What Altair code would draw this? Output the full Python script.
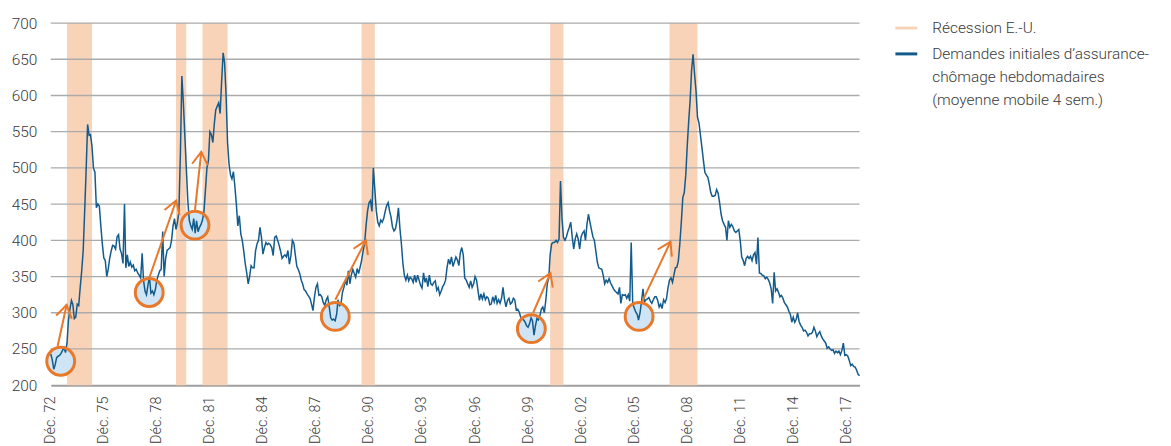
import altair as alt
import pandas as pd

# ---------------- data ----------------
START = "1972-12-01"  # first monthly observation (Dec 1972)
# 4-week moving average of weekly initial jobless claims (thousands), monthly samples read off the chart
claims_1972 = [243]
claims_1973 = [235, 222, 228, 238, 240, 241, 244, 248, 252, 245, 258, 290]
claims_1974 = [305, 317, 312, 292, 294, 312, 310, 335, 358, 385, 440, 496]
claims_1975 = [560, 545, 546, 530, 500, 494, 445, 450, 447, 420, 395, 376]
claims_1976 = [372, 350, 360, 375, 385, 393, 392, 388, 405, 408, 388, 382]
claims_1977 = [368, 450, 362, 380, 364, 370, 363, 366, 358, 360, 355, 352]
claims_1978 = [348, 382, 345, 330, 325, 338, 350, 327, 330, 325, 332, 345]
claims_1979 = [352, 358, 360, 412, 350, 375, 386, 388, 390, 400, 420, 430]
claims_1980 = [415, 425, 440, 520, 627, 590, 545, 500, 455, 428, 420, 415]
claims_1981 = [430, 410, 427, 412, 418, 422, 428, 440, 470, 500, 510, 550]
claims_1982 = [546, 535, 560, 580, 585, 590, 575, 620, 659, 645, 600, 535]
claims_1983 = [505, 490, 485, 495, 475, 450, 420, 434, 409, 400, 385, 368]
claims_1984 = [355, 340, 350, 365, 362, 362, 385, 395, 400, 418, 404, 381]
claims_1985 = [390, 397, 394, 396, 394, 390, 379, 404, 406, 400, 393, 385]
claims_1986 = [375, 378, 380, 377, 386, 367, 378, 400, 396, 380, 364, 360]
claims_1987 = [354, 345, 340, 332, 330, 326, 323, 320, 312, 303, 322, 335]
claims_1988 = [340, 324, 325, 322, 314, 310, 318, 322, 308, 293, 290, 291]
claims_1989 = [289, 298, 318, 310, 312, 328, 335, 345, 338, 358, 340, 352]
claims_1990 = [360, 354, 349, 361, 354, 363, 372, 385, 395, 420, 440, 452]
claims_1991 = [455, 440, 500, 470, 441, 425, 420, 428, 425, 430, 440, 448]
claims_1992 = [452, 440, 432, 418, 413, 416, 427, 445, 416, 395, 368, 352]
claims_1993 = [345, 352, 344, 349, 347, 342, 352, 342, 352, 345, 338, 334]
claims_1994 = [355, 342, 348, 336, 352, 340, 338, 342, 344, 331, 335, 325]
claims_1995 = [330, 336, 339, 345, 362, 374, 367, 377, 364, 370, 377, 373]
claims_1996 = [365, 383, 390, 380, 348, 345, 340, 335, 344, 335, 340, 350]
claims_1997 = [345, 330, 317, 326, 319, 326, 318, 322, 320, 311, 312, 322]
claims_1998 = [315, 324, 313, 318, 313, 320, 335, 318, 308, 317, 320, 312]
claims_1999 = [314, 320, 318, 304, 305, 301, 294, 292, 290, 287, 282, 280]
claims_2000 = [285, 293, 289, 269, 282, 292, 290, 296, 305, 308, 300, 317]
claims_2001 = [340, 348, 380, 395, 397, 397, 400, 397, 402, 482, 430, 404]
claims_2002 = [400, 405, 412, 418, 425, 404, 388, 402, 409, 402, 388, 405]
claims_2003 = [410, 413, 400, 422, 436, 425, 415, 405, 400, 385, 370, 362]
claims_2004 = [361, 360, 352, 340, 345, 342, 347, 341, 337, 333, 330, 328]
claims_2005 = [326, 335, 313, 325, 324, 325, 320, 325, 316, 397, 312, 307]
claims_2006 = [301, 298, 290, 300, 315, 333, 315, 318, 319, 321, 316, 313]
claims_2007 = [318, 322, 322, 317, 308, 312, 306, 318, 314, 320, 335, 345]
claims_2008 = [348, 342, 352, 362, 363, 372, 395, 425, 459, 466, 490, 530]
claims_2009 = [565, 595, 635, 657, 630, 606, 570, 562, 545, 528, 510, 494]
claims_2010 = [490, 487, 478, 466, 461, 461, 462, 470, 465, 452, 436, 427]
claims_2011 = [422, 418, 400, 427, 418, 422, 419, 413, 411, 413, 415, 400]
claims_2012 = [377, 372, 365, 375, 378, 375, 378, 372, 380, 383, 367, 404]
claims_2013 = [355, 354, 352, 351, 347, 349, 346, 341, 333, 313, 356, 330]
claims_2014 = [333, 328, 322, 324, 320, 314, 311, 308, 302, 298, 287, 294]
claims_2015 = [287, 291, 300, 288, 283, 280, 275, 276, 273, 268, 271, 271]
claims_2016 = [273, 280, 275, 267, 271, 274, 268, 264, 261, 258, 251, 253]
claims_2017 = [250, 248, 249, 244, 247, 245, 247, 242, 248, 258, 241, 242]
claims_2018 = [240, 234, 227, 229, 226, 225, 221, 215, 213]

# US recessions (NBER): first and one-past-last month
rec_start = ["1973-11-01", "1980-01-01", "1981-07-01", "1990-07-01", "2001-03-01", "2007-12-01"]
rec_end = ["1975-04-01", "1980-08-01", "1982-12-01", "1991-04-01", "2001-12-01", "2009-07-01"]

# Annotations: circled troughs and arrows
circ_date = ["1973-06-24", "1978-06-27", "1981-01-28", "1989-01-04", "2000-02-07", "2006-03-13"]
circ_val = [233, 328, 421, 295, 278, 295]
arr_from_date = ["1973-04-22", "1978-06-27", "1981-01-28", "1989-01-04", "2000-03-15", "2006-05-13"]
arr_from_val = [254, 348, 442, 318, 300, 315]
arr_to_date = ["1973-10-25", "1980-01-04", "1981-06-06", "1990-09-28", "2001-03-07", "2007-12-22"]
arr_to_val = [311, 455, 522, 400, 355, 398]
arr_angle = [12, 19, 6, 24, 23, 27]

y_ticks = [200, 250, 300, 350, 400, 450, 500, 550, 600, 650, 700]
x_tick_years = list(range(1972, 2018, 3))

legend_labels = ["Récession E.-U.",
                 "Demandes initiales d’assurance-|chômage hebdomadaires|(moyenne mobile 4 sem.)"]

# ---------------- styling ----------------
FONT = "Roboto"
TXT = "#3a3a3a"
PEACH = "#F8D3B8"
BLUE = "#135B8C"
ORANGE = "#E8782A"
LIGHTBLUE = "#CFE4F4"
GRID = "#ABABAB"
W, H = 813, 364

all_claims = (claims_1972 + claims_1973 + claims_1974 + claims_1975 + claims_1976 + claims_1977
              + claims_1978 + claims_1979 + claims_1980 + claims_1981 + claims_1982 + claims_1983
              + claims_1984 + claims_1985 + claims_1986 + claims_1987 + claims_1988 + claims_1989
              + claims_1990 + claims_1991 + claims_1992 + claims_1993 + claims_1994 + claims_1995
              + claims_1996 + claims_1997 + claims_1998 + claims_1999 + claims_2000 + claims_2001
              + claims_2002 + claims_2003 + claims_2004 + claims_2005 + claims_2006 + claims_2007
              + claims_2008 + claims_2009 + claims_2010 + claims_2011 + claims_2012 + claims_2013
              + claims_2014 + claims_2015 + claims_2016 + claims_2017 + claims_2018)
dates = pd.date_range(START, periods=len(all_claims), freq="MS")

line_df = pd.DataFrame({"date": dates.strftime("%Y-%m-%d"), "value": all_claims})
rec_df = pd.DataFrame({"start": rec_start, "end": rec_end})
grid_df = pd.DataFrame({"v": y_ticks[1:]})
circ_df = pd.DataFrame({"date": circ_date, "value": circ_val})
arr_df = pd.DataFrame({"d0": arr_from_date, "v0": arr_from_val, "d1": arr_to_date,
                       "v1": arr_to_val, "ang": arr_angle})


def ms(s):
    return int(pd.Timestamp(s).value // 10**6)


x_scale = alt.Scale(type="utc", domain=[ms(START), ms(dates[-1].strftime("%Y-%m-%d"))])
y_scale = alt.Scale(domain=[200, 700], nice=False, zero=False)

x_axis = alt.Axis(values=[ms(f"{y}-12-01") for y in x_tick_years],
                  labelExpr="'Déc. ' + utcFormat(datum.value, '%y')",
                  labelAngle=270, labelFontSize=14.5, labelFont=FONT, labelFontWeight=300,
                  labelColor=TXT, labelPadding=11, ticks=False, tickSize=0, grid=False,
                  domain=True, domainColor="#9E9E9E", domainWidth=2, title=None,
                  labelOverlap=False, labelFlush=False)
y_axis = alt.Axis(values=y_ticks, grid=False, domain=False, ticks=False, tickSize=0,
                  labelPadding=14, labelFontSize=15.5, labelFont=FONT, labelFontWeight=300,
                  labelColor=TXT, labelOverlap=False, title=None)


def X(field):
    return alt.X(field, scale=x_scale, axis=x_axis)


def Y(field):
    return alt.Y(field, scale=y_scale, axis=y_axis)


rec = alt.Chart(rec_df).mark_rect(color=PEACH).encode(x=X("start:T"), x2="end:T")

grid = alt.Chart(grid_df).mark_rule(color=GRID, strokeWidth=1.3).encode(y=Y("v:Q"))

circ_fill = alt.Chart(circ_df).mark_point(shape="circle", filled=True, fill=LIGHTBLUE,
                                          opacity=1, size=784, strokeWidth=0).encode(
    x=X("date:T"), y=Y("value:Q")
)

line = alt.Chart(line_df).mark_line(strokeWidth=1.5, color=BLUE).encode(
    x=X("date:T"), y=Y("value:Q")
)

ring = alt.Chart(circ_df).mark_point(shape="circle", filled=False, color=ORANGE,
                                     opacity=1, size=784, strokeWidth=3).encode(
    x=X("date:T"), y=Y("value:Q")
)

shaft = alt.Chart(arr_df).mark_rule(color=ORANGE, strokeWidth=2).encode(
    x=X("d0:T"), y=Y("v0:Q"), x2="d1:T", y2="v1:Q",
)

head = alt.Chart(arr_df).mark_point(shape="M -0.53 0.85 L 0 0 L 0.53 0.85", filled=False,
                                    color=ORANGE, opacity=1, size=900, strokeWidth=2).encode(
    x=X("d1:T"), y=Y("v1:Q"), angle=alt.Angle("ang:Q", scale=None),
)

# legend (drawn to the right of the plot area)
leg_rec_sym = alt.Chart(pd.DataFrame({"l": legend_labels[:1]})).mark_rule(
    color=PEACH, strokeWidth=3).encode(x=alt.value(W + 36), x2=alt.value(W + 58), y=alt.value(5))
leg_ser_sym = alt.Chart(pd.DataFrame({"l": legend_labels[1:]})).mark_rule(
    color=BLUE, strokeWidth=3).encode(x=alt.value(W + 36), x2=alt.value(W + 58), y=alt.value(31))
leg_rec_txt = alt.Chart(pd.DataFrame({"l": legend_labels[:1]})).mark_text(
    align="left", baseline="middle", font=FONT, fontWeight=300, fontSize=15.5, color=TXT
).encode(text="l:N", x=alt.value(W + 73), y=alt.value(5))
leg_ser_txt = alt.Chart(pd.DataFrame({"l": legend_labels[1:]})).mark_text(
    align="left", baseline="middle", font=FONT, fontWeight=300, fontSize=15.5, color=TXT,
    lineBreak="|", lineHeight=23
).encode(text="l:N", x=alt.value(W + 73), y=alt.value(31))

chart = alt.layer(rec, grid, circ_fill, line, ring, shaft, head,
                  leg_rec_sym, leg_ser_sym, leg_rec_txt, leg_ser_txt).properties(
    width=W, height=H,
    padding={"left": 43, "top": 14, "right": 305, "bottom": 60},
    autosize="none",
    background="white",
).configure_view(stroke=None)

chart.save("out.html", embed_options={"renderer": "svg", "actions": False})
